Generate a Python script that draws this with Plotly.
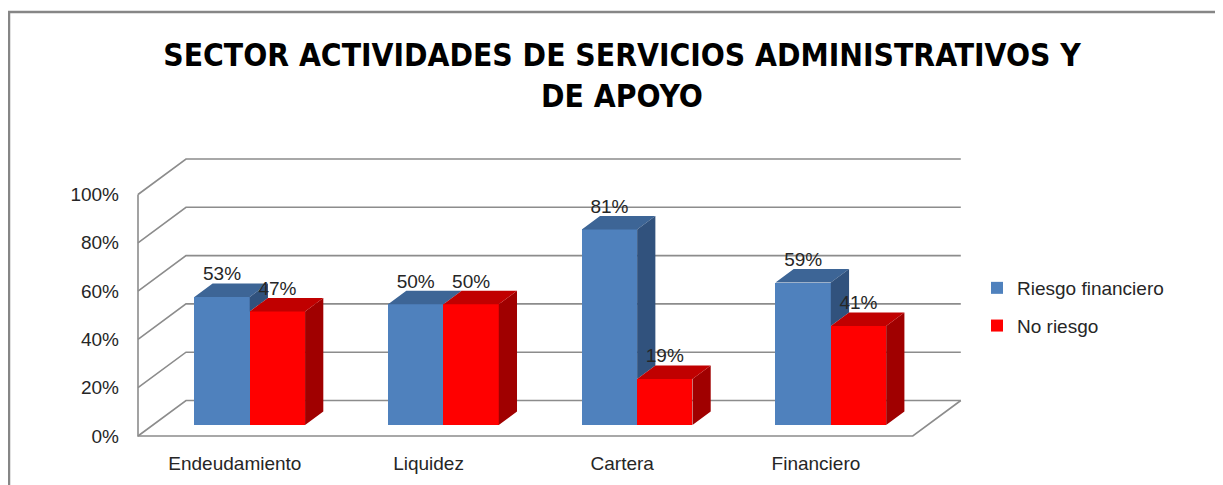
import plotly.graph_objects as go

# ---------------- data ----------------
categories = ["Endeudamiento", "Liquidez", "Cartera", "Financiero"]
riesgo_financiero = [53, 50, 81, 59]
no_riesgo = [47, 50, 19, 41]
series_names = ["Riesgo financiero", "No riesgo"]
y_ticks = [0, 20, 40, 60, 80, 100]
title_text = "SECTOR ACTIVIDADES DE SERVICIOS ADMINISTRATIVOS Y<br>DE APOYO"

# ---------------- geometry (page-pixel calibration of the oblique 3D look) ----------------
OFF_X, OFF_Y = 8, 4           # offset of the figure inside the html page
W, H = 1223 - OFF_X, 485 - OFF_Y
PLOT_L, PLOT_R, PLOT_T, PLOT_B = 130, 975, 140, 440   # page pixels
PX_CAT = 193.7          # pixels per category
PX_PCT = 2.415          # pixels per percent
X0_PX, Y0_PX = 234.85, 432.0
x_range = [(PLOT_L - X0_PX) / PX_CAT, (PLOT_R - X0_PX) / PX_CAT]
y_range = [(Y0_PX - PLOT_B) / PX_PCT, (Y0_PX - PLOT_T) / PX_PCT]

WX = 48.0 / PX_CAT      # full wall depth, x component (data units)
WY = 35.5 / PX_PCT      # full wall depth, y component (data units)
D0, D1 = 0.31, 0.69     # bar front / back depth fraction
bx, by = D0 * WX, D0 * WY
ddx, ddy = (D1 - D0) * WX, (D1 - D0) * WY
bw = 1 / 3.5            # bar width (gap width 150%)

n = len(categories)
x_left, x_right = -0.5, n - 0.5

colors = {
    "blue": ("#4F81BD", "#3D6596", "#31527D"),
    "red": ("#FF0000", "#C00000", "#A00000"),
}
grid_color = "#8C8C8C"
font_family = "Liberation Sans, Arial, sans-serif"

fig = go.Figure()

# ---------- front faces as bars ----------
blue_x = [i + bx - bw / 2 for i in range(n)]
red_x = [i + bx + bw / 2 for i in range(n)]
fig.add_trace(go.Bar(
    x=blue_x, y=riesgo_financiero, base=by, width=bw, name=series_names[0],
    marker=dict(color=colors["blue"][0], line=dict(width=0)), legendgroup="a",
    hoverinfo="skip"))
fig.add_trace(go.Bar(
    x=red_x, y=no_riesgo, base=by, width=bw, name=series_names[1],
    marker=dict(color=colors["red"][0], line=dict(width=0)), legendgroup="b",
    hoverinfo="skip"))


def poly_trace(xs, ys, color):
    return go.Scatter(x=xs, y=ys, mode="lines", fill="toself", fillcolor=color,
                      line=dict(width=0, color=color), showlegend=False,
                      hoverinfo="skip")


# ---------- tops & sides ----------
bt_x, bt_y, bs_x, bs_y = [], [], [], []
rt_x, rt_y, rs_x, rs_y = [], [], [], []
for i in range(n):
    c = i + bx
    vb = by + riesgo_financiero[i]
    vr = by + no_riesgo[i]
    # blue top
    l, r = c - bw, c
    bt_x += [l, r, r + ddx, l + ddx, l, None]
    bt_y += [vb, vb, vb + ddy, vb + ddy, vb, None]
    # blue side (only the part above the red box)
    if vb > vr:
        bs_x += [r, r, r + ddx, r + ddx, r, None]
        bs_y += [vr, vb, vb + ddy, vr + ddy, vr, None]
    # red side
    l2, r2 = c, c + bw
    rs_x += [r2, r2, r2 + ddx, r2 + ddx, r2, None]
    rs_y += [by, vr, vr + ddy, by + ddy, by, None]
    # red top
    rt_x += [l2, r2, r2 + ddx, l2 + ddx, l2, None]
    rt_y += [vr, vr, vr + ddy, vr + ddy, vr, None]

fig.add_trace(poly_trace(bt_x, bt_y, colors["blue"][1]))
fig.add_trace(poly_trace(bs_x, bs_y, colors["blue"][2]))
fig.add_trace(poly_trace(rs_x, rs_y, colors["red"][2]))
fig.add_trace(poly_trace(rt_x, rt_y, colors["red"][1]))

# ---------- data labels ----------
lab_off = 21.5 / PX_PCT
fig.add_trace(go.Scatter(
    x=blue_x + red_x,
    y=[by + v + lab_off for v in riesgo_financiero] + [by + v + lab_off for v in no_riesgo],
    text=[f"{v}%" for v in riesgo_financiero] + [f"{v}%" for v in no_riesgo],
    mode="text", textposition="middle center",
    textfont=dict(family=font_family, size=19, color="#262626"),
    showlegend=False, hoverinfo="skip"))

# ---------- walls, floor & gridlines ----------
shapes = []
for t in y_ticks:
    shapes.append(dict(
        type="path", xref="x", yref="y", layer="below",
        path=f"M {x_left} {t} L {x_left + WX} {t + WY} L {x_right + WX} {t + WY}",
        line=dict(color=grid_color, width=1.6)))
shapes.append(dict(
    type="path", xref="x", yref="y", layer="below",
    path=f"M {x_left} {y_ticks[-1]} L {x_left} 0 L {x_right} 0 L {x_right + WX} {WY}",
    line=dict(color=grid_color, width=1.6)))


def px2paper_x(p):
    return (p - PLOT_L) / (PLOT_R - PLOT_L)


def px2paper_y(p):
    return (PLOT_B - p) / (PLOT_B - PLOT_T)


# chart border (top and left edges visible)
shapes.append(dict(
    type="path", xref="paper", yref="paper", layer="above",
    path=(f"M {px2paper_x(9)} {px2paper_y(500)} L {px2paper_x(9)} {px2paper_y(8)} "
          f"L {px2paper_x(1240)} {px2paper_y(8)}"),
    line=dict(color="#868686", width=2.5)))

fig.update_layout(
    width=W, height=H,
    margin=dict(l=PLOT_L - OFF_X, r=W - (PLOT_R - OFF_X), t=PLOT_T - OFF_Y,
                b=H - (PLOT_B - OFF_Y), pad=0),
    paper_bgcolor="white", plot_bgcolor="white",
    barmode="overlay", bargap=0,
    title=dict(text=f"<b>{title_text}</b>", x=(622 - OFF_X) / W, xref="container", xanchor="center",
               y=1 - 58 / H, yref="container", yanchor="middle",
               font=dict(family="Liberation Sans Narrow, DejaVu Sans Condensed, Arial Narrow, sans-serif",
                         size=31.5, color="#000000")),
    xaxis=dict(range=x_range, tickmode="array", tickvals=list(range(n)), ticktext=categories,
               showgrid=False, zeroline=False, showline=False, ticks="",
               ticklabelstandoff=6,
               tickfont=dict(family=font_family, size=19, color="#262626")),
    yaxis=dict(range=y_range, tickmode="array", tickvals=y_ticks,
               ticktext=[f"{t}%" for t in y_ticks],
               showgrid=False, zeroline=False, showline=False, ticks="",
               ticklabelstandoff=10,
               tickfont=dict(family=font_family, size=19, color="#262626")),
    legend=dict(x=px2paper_x(977), y=px2paper_y(303), xanchor="left", yanchor="middle",
                font=dict(family=font_family, size=19, color="#262626"),
                traceorder="grouped", tracegroupgap=10, bgcolor="rgba(0,0,0,0)"),
    shapes=shapes,
    showlegend=True,
)

fig.write_html("out.html")
